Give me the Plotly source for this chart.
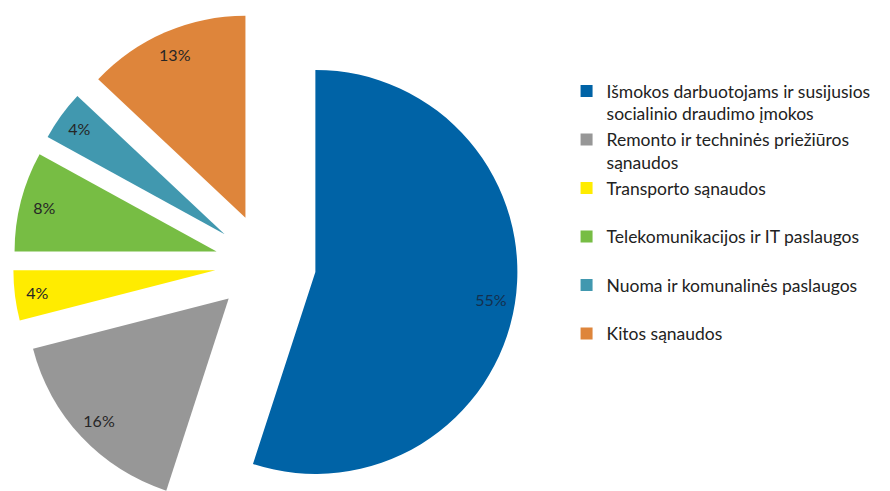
import plotly.graph_objects as go

labels = [
    "Išmokos darbuotojams ir susijusios<br>socialinio draudimo įmokos",
    "Remonto ir techninės priežiūros<br>sąnaudos",
    "Transporto sąnaudos<br> ",
    "Telekomunikacijos ir IT paslaugos<br> ",
    "Nuoma ir komunalinės paslaugos<br> ",
    "Kitos sąnaudos<br> ",
]
values = [55, 16, 4, 8, 4, 13]
colors = ["#0063A6", "#979797", "#FFEC00", "#77BD44", "#4198AF", "#DE853B"]
text_colors = ["#14304f", "#262626", "#262626", "#262626", "#262626", "#262626"]

W, H = 890, 512
pull = 0.25
dom_x = [5 / W, 510 / W]

fig = go.Figure()
fig.add_trace(go.Pie(
    labels=labels, values=values, sort=False, direction="clockwise", rotation=0,
    marker=dict(colors=colors, line=dict(width=0)),
    pull=[pull] * len(values), textinfo="none",
    domain=dict(x=dom_x, y=[0, 1]), showlegend=True,
))
# overlay ring only for label placement near the outer edge
fig.add_trace(go.Pie(
    labels=labels, values=values, sort=False, direction="clockwise", rotation=0,
    marker=dict(colors=["rgba(0,0,0,0)"] * len(values), line=dict(width=0)),
    pull=[pull] * len(values), hole=0.76, textinfo="percent",
    textposition="inside", insidetextorientation="horizontal",
    textfont=dict(family="Lato", size=16, color=text_colors),
    hoverinfo="skip", domain=dict(x=dom_x, y=[0, 1]), showlegend=False,
))

fig.update_layout(
    width=W, height=H, margin=dict(l=0, r=0, t=0, b=0),
    paper_bgcolor="white", plot_bgcolor="white",
    font=dict(family="Lato", size=17.5, color="#222222"),
    legend=dict(x=0.6276, y=1 - 65 / H, xanchor="left", yanchor="top",
                valign="top", traceorder="normal", bgcolor="rgba(0,0,0,0)"),
)
fig.write_html("out.html")
